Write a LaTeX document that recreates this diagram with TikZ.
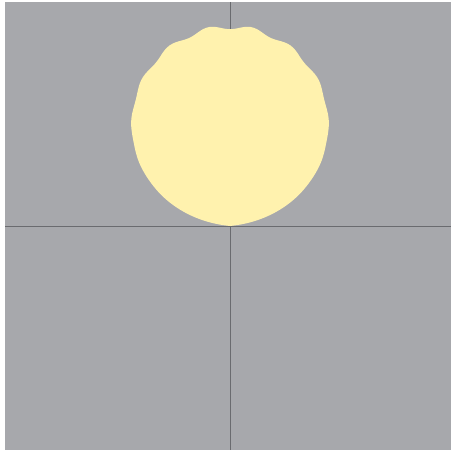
\documentclass[tikz,border=0pt]{standalone}
\definecolor{bggray}{HTML}{A7A8AC}
\definecolor{blobyellow}{HTML}{FFF2AE}
\definecolor{axisgray}{HTML}{6A6B6F}
\tikzset{
  axisline/.style={draw=axisgray, line width=0.7pt},
  blob/.style={fill=blobyellow, draw=none},
  declare function={
    ww(\p)=((1-cos(\p))/2)^2;
    rr(\p)=99-3*ww(\p)-2.2*ww(\p)*cos(14*\p)+4*exp(-\p/22)+4*exp(-(360-\p)/22);}
}
\begin{document}
\begin{tikzpicture}[x=1pt,y=1pt]
  \useasboundingbox (0,0) rectangle (451,453);
  \fill[white] (0,0) rectangle (451,453);
  \fill[bggray] (5,3) rectangle (451,451);
  \draw[axisline] (230,3) -- (230,451);
  \draw[axisline] (5,227) -- (451,227);
  \fill[blob] plot[domain=0:360, samples=181, smooth, variable=\p]
    ({230+rr(\p)*sin(\p)}, {330-rr(\p)*cos(\p)}) -- cycle;
\end{tikzpicture}
\end{document}
